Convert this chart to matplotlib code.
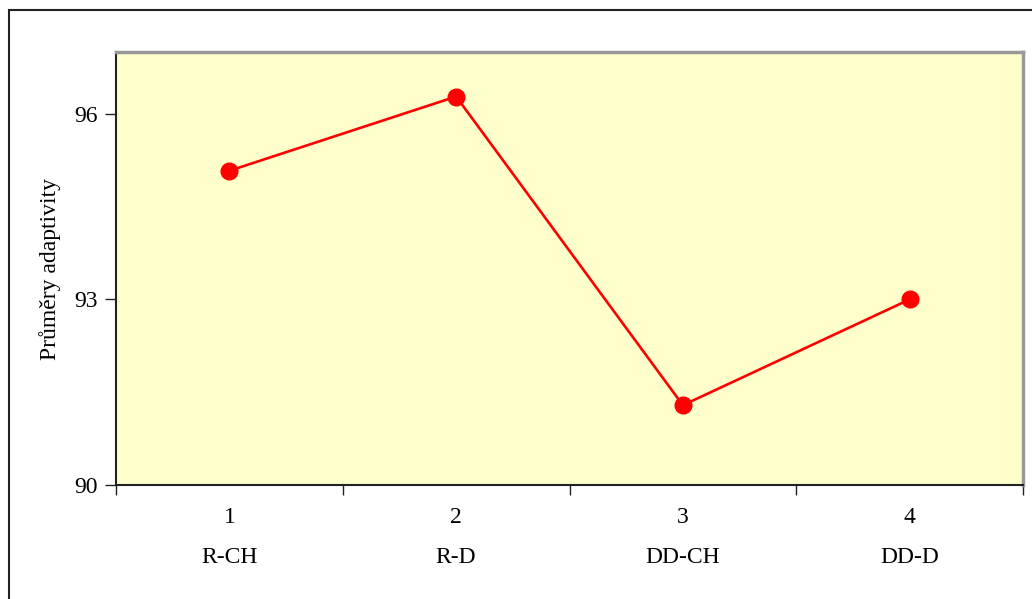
import matplotlib
matplotlib.use('Agg')
import matplotlib.pyplot as plt
from matplotlib.patches import Rectangle

# mean adaptivity per group
positions = [1, 2, 3, 4]
groups = ['R-CH', 'R-D', 'DD-CH', 'DD-D']
means = [95.08, 96.28, 91.29, 93.0]
y_ticks = [90, 93, 96]

plt.rcParams['font.family'] = ['Liberation Serif', 'DejaVu Serif']

W, H = 1032, 599
fig = plt.figure(figsize=(W / 100, H / 100), dpi=100)
fig.patch.set_facecolor('white')

# outer frame round the whole chart
fig.patches.append(Rectangle((9 / W, -0.2), 1.2, 1.2 - 10 / H,
                             transform=fig.transFigure, fill=False,
                             edgecolor='#222222', linewidth=1.5, clip_on=False))

ax = fig.add_axes([116 / W, 1 - 485 / H, 907 / W, 433 / H])
ax.set_facecolor('#FFFFCC')

ax.plot(positions, means, color='red', linewidth=1.9, marker='o',
        markersize=12, markerfacecolor='red', markeredgecolor='red', zorder=3)

ax.set_xlim(0.5, 4.5)
ax.set_ylim(90, 97)
ax.set_yticks(y_ticks)
ax.set_yticklabels([str(v) for v in y_ticks], fontsize=17)
ax.tick_params(axis='y', direction='out', length=8, width=1, color='#222222', pad=5)

# category labels sit between the boundary ticks
ax.set_xticks(positions)
ax.set_xticklabels([f'{p}\n{g}' for p, g in zip(positions, groups)],
                   fontsize=17, linespacing=2.2)
ax.tick_params(axis='x', which='major', length=0, pad=16)
ax.set_xticks([0.5, 1.5, 2.5, 3.5, 4.5], minor=True)
ax.tick_params(axis='x', which='minor', direction='out', length=7, width=1, color='#222222')

ax.spines['left'].set_color('#222222')
ax.spines['left'].set_linewidth(1.5)
ax.spines['bottom'].set_color('#222222')
ax.spines['bottom'].set_linewidth(1.5)
ax.spines['top'].set_color('#999999')
ax.spines['top'].set_linewidth(2.5)
ax.spines['right'].set_color('#999999')
ax.spines['right'].set_linewidth(2.5)

ax.set_ylabel('Průměry adaptivity', fontsize=17, labelpad=10)

fig.savefig('out.png', dpi=100)
